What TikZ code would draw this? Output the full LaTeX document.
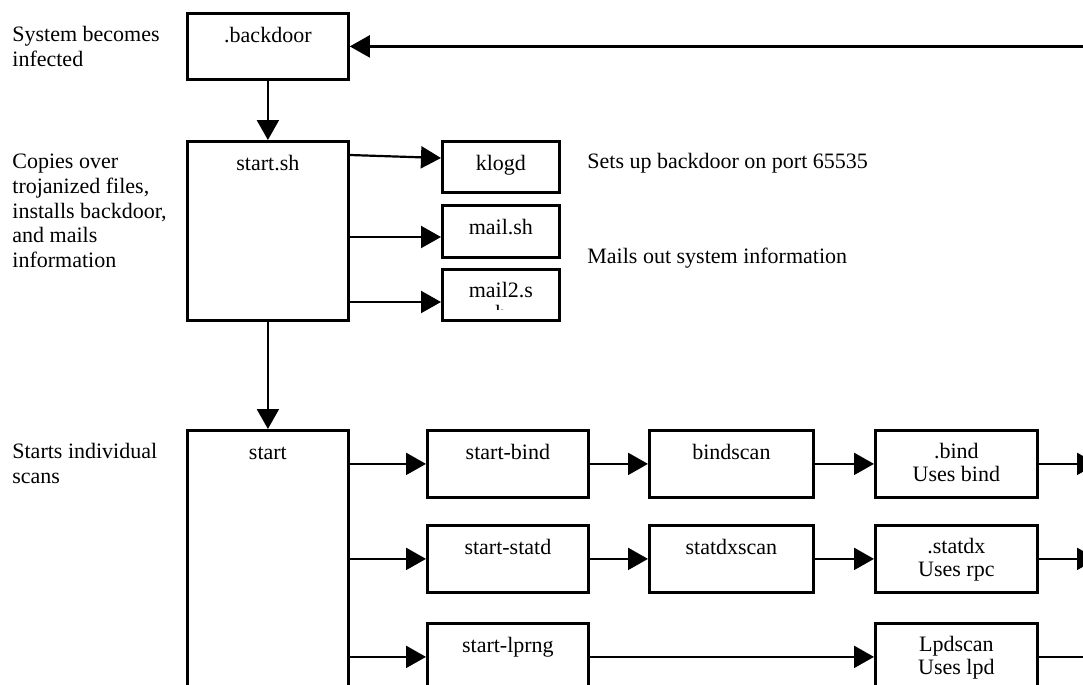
\documentclass[tikz,border=0pt]{standalone}
\usepackage{fontspec}
\setmainfont{Liberation Serif}
\usetikzlibrary{arrows.meta}

\tikzset{
    box/.style 2 args={draw, line width=1.4pt, anchor=north west, inner sep=0pt,
        minimum width=#1*0.5pt, minimum height=#2*0.5pt},
    boxtext/.style={anchor=north, inner sep=0pt, align=center, yshift=-7pt,
        font=\fontsize{11}{11.5}\selectfont, execute at begin node=\strut},
    desc/.style={anchor=north west, inner sep=0pt, align=left,
        font=\fontsize{11}{12.3}\selectfont, execute at begin node=\strut},
    arr/.style={-{Triangle[length=10pt,width=11pt]}, line width=1.1pt},
}

\begin{document}
\begin{tikzpicture}[x=0.5pt, y=-0.5pt, font=\fontsize{11}{12}\selectfont]
    \useasboundingbox (0, 0) rectangle (1083, 685);
    \clip (0, 0) rectangle (1083, 685);

    % notes on the left
    \node[desc] (infected) at (12, 26) {System becomes\\infected};
    \node[desc] (copies) at (12, 154) {Copies over\\trojanized files,\\installs backdoor,\\and mails\\information};
    \node[desc] (scans) at (12, 443) {Starts individual\\scans};
    \node[desc] (port) at (587, 151) {Sets up backdoor on port 65535};
    \node[desc] (sysinfo) at (587, 246) {Mails out system information};

    % top part
    \node[box={161}{66}, label={[boxtext]north:.backdoor}] (backdoor) at (186, 12) {};
    \node[box={161}{179}, label={[boxtext]north:start.sh}] (startsh) at (186, 140) {};
    \node[box={117}{51}, label={[boxtext]north:klogd}] (klogd) at (441, 140) {};
    \node[box={117}{52}, label={[boxtext]north:mail.sh}] (mailsh) at (441, 204) {};
    \node[box={117}{51}] (mailtwo) at (441, 268) {};
    \begin{scope}
        \clip ([shift={(3,3)}]mailtwo.north west) rectangle ([shift={(-3,-12)}]mailtwo.south east);
        \node[boxtext] (mailtwotext) at (mailtwo.north) {mail2.s\\h};
    \end{scope}

    % scans
    \node[box={161}{400}, label={[boxtext]north:start}] (start) at (186, 429) {};
    \foreach \name/\txt/\y in {startbind/start-bind/429, startstatd/start-statd/524, startlprng/start-lprng/622}
        \node[box={161}{67}, label={[boxtext]north:\txt}] (\name) at (426, \y) {};
    \node[box={164}{67}, label={[boxtext]north:bindscan}] (bindscan) at (648, 429) {};
    \node[box={164}{67}, label={[boxtext]north:statdxscan}] (statdxscan) at (648, 524) {};
    \node[box={162}{67}, label={[boxtext]north:.bind\\Uses bind}] (bind) at (874, 429) {};
    \node[box={162}{67}, label={[boxtext]north:.statdx\\Uses rpc}] (statdx) at (874, 524) {};
    \node[box={162}{67}, label={[boxtext]north:Lpdscan\\Uses lpd}] (lpdscan) at (874, 622) {};

    \coordinate (edge) at (1097, 0);
    \coordinate (faredge) at (1115, 0);

    \draw[arr] (faredge |- backdoor.east) -- (backdoor.east);
    \draw[arr] (backdoor) -- (startsh);
    \draw[arr] (startsh) -- (start);
    \draw[arr] ([shift={(0,15)}]startsh.north east) -- ([shift={(0,18)}]klogd.north west);
    \draw[arr] ([shift={(0,33)}]startsh.east |- mailsh.north) -- ([shift={(0,33)}]mailsh.north west);
    \draw[arr] ([shift={(0,34)}]startsh.east |- mailtwo.north) -- ([shift={(0,34)}]mailtwo.north west);

    \foreach \a/\b in {start/startbind, start/startstatd, start/startlprng,
                       startbind/bindscan, startstatd/statdxscan, startlprng/lpdscan,
                       bindscan/bind, statdxscan/statdx}
        \draw[arr] (\a.east |- \b.west) -- (\b.west);

    \draw[arr] (bind.east) -- (edge |- bind.east);
    \draw[arr] (statdx.east) -- (edge |- statdx.east);
    \draw[arr] (lpdscan.east) -- (faredge |- lpdscan.east);
\end{tikzpicture}
\end{document}
